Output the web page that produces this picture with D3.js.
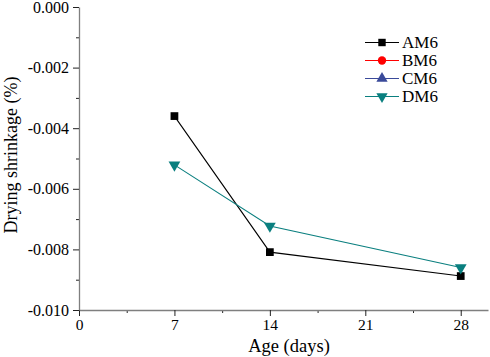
<!DOCTYPE html>
<html>
<head>
<meta charset="utf-8">
<script src="https://cdn.jsdelivr.net/npm/d3@7"></script>
<style>
  body { margin: 0; background: white; }
  svg text { font-family: "Liberation Serif", "Times New Roman", serif; }
</style>
</head>
<body>
<svg id="chart" width="490" height="357"></svg>
<script>
// data
const ages = [7, 14, 28]
const am6 = [-0.0036, -0.00809, -0.00888]
const dm6 = [-0.00521, -0.00723, -0.0086]
const seriesNames = ["AM6", "BM6", "CM6", "DM6"]
const seriesColors = ["black", "red", "#3a4a9a", "#0a7f7f"]
const seriesSymbols = [d3.symbolSquare, d3.symbolCircle, d3.symbolTriangle, "down"]
const xTicks = [0, 7, 14, 21, 28]
const yTicks = [0, -0.002, -0.004, -0.006, -0.008, -0.010]

const svg = d3.select("#chart")
const x = d3.scaleLinear().domain([0, 30]).range([79, 488])
const y = d3.scaleLinear().domain([-0.010, 0]).range([310, 7])
const axisCol = "#7f7f7f"
const fmtY = v => d3.format(".3f")(v).replace("\u2212", "-")

// x axis
let gx = svg.append("g").attr("transform", "translate(0,310)")
gx.call(d3.axisBottom(x).tickValues(d3.range(3.5, 30, 7)).tickSize(3).tickSizeOuter(0).tickFormat(""))
gx.select(".domain").remove()
gx.append("g").call(d3.axisBottom(x).tickValues(xTicks).tickSize(6).tickSizeOuter(0).tickFormat(d3.format("d")))
gx.selectAll(".domain").attr("stroke", axisCol).attr("stroke-width", 1.3)
gx.selectAll("line").attr("stroke", "#222")
gx.selectAll("text").attr("fill", "black").attr("font-size", 15.5).attr("dy", "0.74em")
  .attr("font-family", "Liberation Serif")

// y axis
let gy = svg.append("g").attr("transform", "translate(79,0)")
gy.call(d3.axisLeft(y).tickValues(d3.range(0, 5).map(i => -0.001 - 0.002 * i)).tickSize(3).tickSizeOuter(0).tickFormat(""))
gy.select(".domain").remove()
gy.append("g").call(d3.axisLeft(y).tickValues(yTicks).tickSize(6).tickSizeOuter(0).tickFormat(fmtY))
gy.selectAll(".domain").attr("stroke", axisCol).attr("stroke-width", 1.3)
gy.selectAll("line").attr("stroke", "#222")
gy.selectAll("text").attr("fill", "black").attr("font-size", 16).attr("x", -10)
  .attr("font-family", "Liberation Serif")

// axis titles
svg.append("text").attr("x", 289).attr("y", 352).attr("text-anchor", "middle")
  .attr("font-size", 18.5).text("Age (days)")
svg.append("text").attr("transform", "translate(17,155) rotate(-90)")
  .attr("text-anchor", "middle").attr("font-size", 18).text("Drying shrinkage (%)")

// lines and markers
const line = d3.line().x((d, i) => x(ages[i])).y(d => y(d))
function marker(g, type, color, size) {
  if (type === "down") {
    g.append("path").attr("d", d3.symbol(d3.symbolTriangle, size)())
      .attr("transform", "rotate(180)").attr("fill", color)
  } else {
    g.append("path").attr("d", d3.symbol(type, size)()).attr("fill", color)
  }
}

const plotted = [[am6, 0], [dm6, 3]]
plotted.forEach(([vals, k]) => {
  svg.append("path").datum(vals).attr("d", line).attr("fill", "none")
    .attr("stroke", seriesColors[k]).attr("stroke-width", 1.1)
})
plotted.forEach(([vals, k]) => {
  vals.forEach((v, i) => {
    let g = svg.append("g").attr("transform", `translate(${x(ages[i])},${y(v)})`)
    marker(g, seriesSymbols[k], seriesColors[k], 60)
  })
})

// legend
const lg = svg.append("g")
seriesNames.forEach((name, i) => {
  let yy = 42.5 + i * 18
  lg.append("line").attr("x1", 365).attr("x2", 399).attr("y1", yy).attr("y2", yy)
    .attr("stroke", seriesColors[i]).attr("stroke-width", 1.1)
  let g = lg.append("g").attr("transform", `translate(382,${yy})`)
  marker(g, seriesSymbols[i], seriesColors[i], 55)
  lg.append("text").attr("x", 402).attr("y", yy).attr("dy", "0.35em")
    .attr("font-size", 17).text(name)
})
</script>
</body>
</html>
